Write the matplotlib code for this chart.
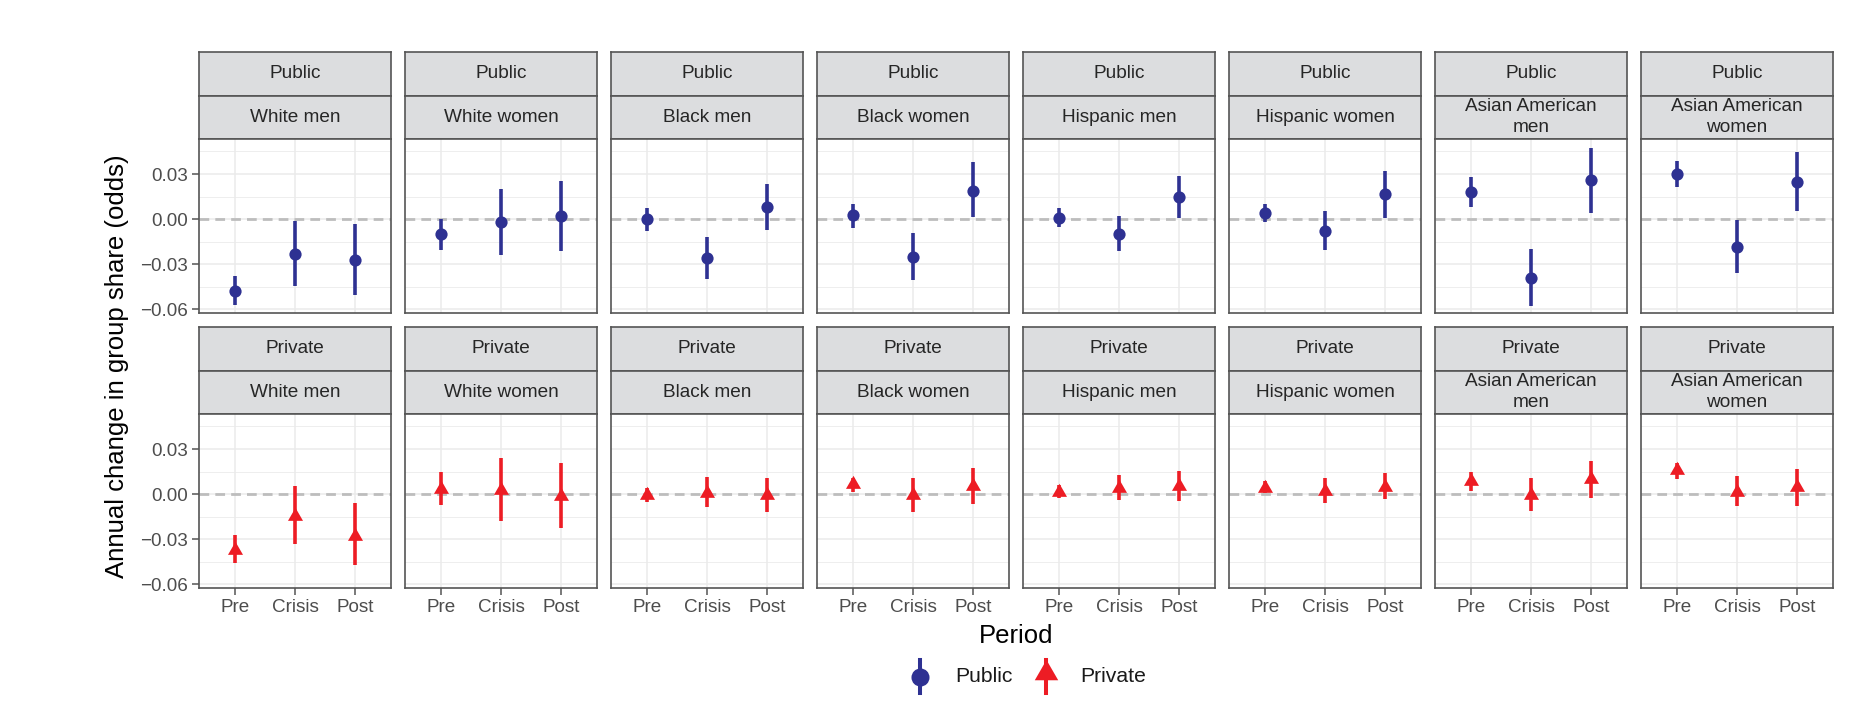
import matplotlib
matplotlib.use("Agg")
import matplotlib.pyplot as plt
from matplotlib.path import Path
from matplotlib.lines import Line2D
import numpy as np

plt.rcParams['font.family'] = ['Liberation Sans', 'DejaVu Sans']

# ---------------- data ----------------
groups = ["White men", "White women", "Black men", "Black women",
          "Hispanic men", "Hispanic women", "Asian American\nmen",
          "Asian American\nwomen"]
periods = ["Pre", "Crisis", "Post"]
sectors = ["Public", "Private"]

public_est = [
    [-0.048, -0.023, -0.027],
    [-0.010, -0.002, 0.002],
    [0.000, -0.026, 0.008],
    [0.0025, -0.025, 0.019],
    [0.001, -0.0096, 0.0147],
    [0.004, -0.0078, 0.0167],
    [0.018, -0.0389, 0.0258],
    [0.030, -0.0187, 0.0249]]
public_lo = [
    [-0.0575, -0.0442, -0.0502],
    [-0.0204, -0.0238, -0.021],
    [-0.0076, -0.040, -0.0072],
    [-0.0058, -0.0407, 0.0011],
    [-0.0053, -0.0213, 0.0007],
    [-0.0022, -0.0209, 0.0009],
    [0.008, -0.0576, 0.0042],
    [0.0216, -0.036, 0.0053]]
public_hi = [
    [-0.0382, -0.0013, -0.0031],
    [0.000, 0.020, 0.0255],
    [0.0076, -0.0121, 0.0235],
    [0.0103, -0.0092, 0.038],
    [0.0076, 0.0022, 0.0289],
    [0.0102, 0.0051, 0.0318],
    [0.028, -0.0202, 0.0476],
    [0.0384, -0.0009, 0.0444]]

private_est = [
    [-0.0373, -0.0148, -0.0276],
    [0.0035, 0.0026, -0.0015],
    [-0.0007, 0.0009, -0.0009],
    [0.0064, -0.0009, 0.0051],
    [0.0015, 0.004, 0.0053],
    [0.0042, 0.0018, 0.0049],
    [0.0086, -0.0009, 0.0099],
    [0.0157, 0.0015, 0.0044]]
private_lo = [
    [-0.0461, -0.0329, -0.0474],
    [-0.0073, -0.0179, -0.0227],
    [-0.0055, -0.0084, -0.0117],
    [0.0013, -0.0117, -0.0068],
    [-0.0024, -0.0042, -0.0044],
    [0.0004, -0.006, -0.0033],
    [0.0022, -0.0113, -0.0024],
    [0.0099, -0.008, -0.0077]]
private_hi = [
    [-0.0269, 0.0051, -0.0057],
    [0.0148, 0.024, 0.0207],
    [0.004, 0.0115, 0.0104],
    [0.011, 0.0106, 0.0172],
    [0.006, 0.0126, 0.0152],
    [0.009, 0.0106, 0.0139],
    [0.0144, 0.0106, 0.0221],
    [0.021, 0.0121, 0.0168]]

y_major = [-0.06, -0.03, 0.00, 0.03]
y_minor = [-0.045, -0.015, 0.015, 0.045]

# ---------------- style ----------------
BLUE = "#2E3192"
RED = "#ED1C24"
BORDER = "#555555"
STRIP_FILL = "#DCDDDF"
GRID = "#EBEBEB"
TICKC = "#4D4D4D"

W, H = 1868, 725
fig = plt.figure(figsize=(W / 100, H / 100), dpi=100)

tri = Path([(0, 1), (-0.866, -0.5), (0.866, -0.5), (0, 1)],
           [Path.MOVETO, Path.LINETO, Path.LINETO, Path.CLOSEPOLY])


def add_px_axes(left, top, width, height, **kw):
    return fig.add_axes([left / W, 1 - (top + height) / H, width / W, height / H], **kw)


panel_left0 = 199.0
panel_w = 192.2
panel_step = 206.0
row_tops = [52.0, 327.0]
strip_h = 43.5
plot_h = 174.0

series = {
    "Public": (public_est, public_lo, public_hi, BLUE, "o"),
    "Private": (private_est, private_lo, private_hi, RED, tri),
}

x = np.arange(1, len(periods) + 1)

for r, sector in enumerate(sectors):
    est, lo, hi, col, mk = series[sector]
    for c, grp in enumerate(groups):
        left = panel_left0 + c * panel_step
        top = row_tops[r]
        # strips
        for k, txt in enumerate([sector, grp]):
            sax = add_px_axes(left, top + k * strip_h, panel_w, strip_h)
            sax.set_facecolor(STRIP_FILL)
            sax.set_xticks([]); sax.set_yticks([])
            for sp in sax.spines.values():
                sp.set_color(BORDER); sp.set_linewidth(1.2)
            sax.text(0.5, 0.5, txt, ha="center", va="center", fontsize=13.7,
                     color="#262626", linespacing=1.3, transform=sax.transAxes)
        ax = add_px_axes(left, top + 2 * strip_h, panel_w, plot_h)
        ax.set_xlim(0.4, 3.6)
        ax.set_ylim(-0.0625, 0.0533)
        ax.set_xticks(x)
        ax.set_xticklabels(periods)
        ax.set_yticks(y_major)
        ax.set_yticks(y_minor, minor=True)
        ax.set_yticklabels([f"{v:.2f}".replace("-", "\u2212") for v in y_major])
        ax.grid(which="major", color=GRID, linewidth=1.1, zorder=0)
        ax.grid(which="minor", axis="y", color=GRID, linewidth=0.6, zorder=0)
        ax.set_axisbelow(True)
        for sp in ax.spines.values():
            sp.set_color(BORDER); sp.set_linewidth(1.2)
        ax.tick_params(which="minor", length=0)
        ax.tick_params(axis="both", which="major", colors=BORDER, width=1.1,
                       length=5, labelsize=13.6, labelcolor=TICKC, pad=3)
        if c != 0:
            ax.tick_params(axis="y", length=0, labelleft=False)
        if r != len(sectors) - 1:
            ax.tick_params(axis="x", length=0, labelbottom=False)
        ax.axhline(0, color="#BDBDBD", linewidth=2.0, linestyle=(0, (3.5, 2.2)), zorder=1.5)
        ax.vlines(x, lo[c], hi[c], color=col, linewidth=2.6, zorder=3)
        if sector == "Public":
            ax.plot(x, est[c], linestyle="none", marker="o", markersize=8.8,
                    markeredgewidth=0, color=col, zorder=4)
        else:
            ax.plot(x, est[c], linestyle="none", marker=tri, markersize=12.5,
                    markeredgewidth=0, color=col, zorder=4)

# overlay for titles and legend (pixel coordinates)
ov = fig.add_axes([0, 0, 1, 1], facecolor="none")
ov.set_xlim(0, W); ov.set_ylim(H, 0)
ov.axis("off")

ov.text((panel_left0 + 7 * panel_step + panel_w + panel_left0) / 2, 636, "Period",
        ha="center", va="center", fontsize=18.5, color="black")
ov.text(117, 366, "Annual change in group share (odds)", rotation=90,
        ha="center", va="center", fontsize=18.5, color="black")

# legend
ly = 676.5
ov.add_line(Line2D([920, 920], [660, 693], color=BLUE, linewidth=2.9))
ov.plot([920], [ly], marker="o", markersize=13, markeredgewidth=0, color=BLUE)
ov.text(955, ly, sectors[0], ha="left", va="center", fontsize=15.2, color="#1A1A1A")
ov.add_line(Line2D([1046, 1046], [660, 693], color=RED, linewidth=2.9))
ov.plot([1046], [673], marker=tri, markersize=19.5, markeredgewidth=0, color=RED)
ov.text(1080, ly, sectors[1], ha="left", va="center", fontsize=15.2, color="#1A1A1A")

fig.savefig("out.png", dpi=100)
